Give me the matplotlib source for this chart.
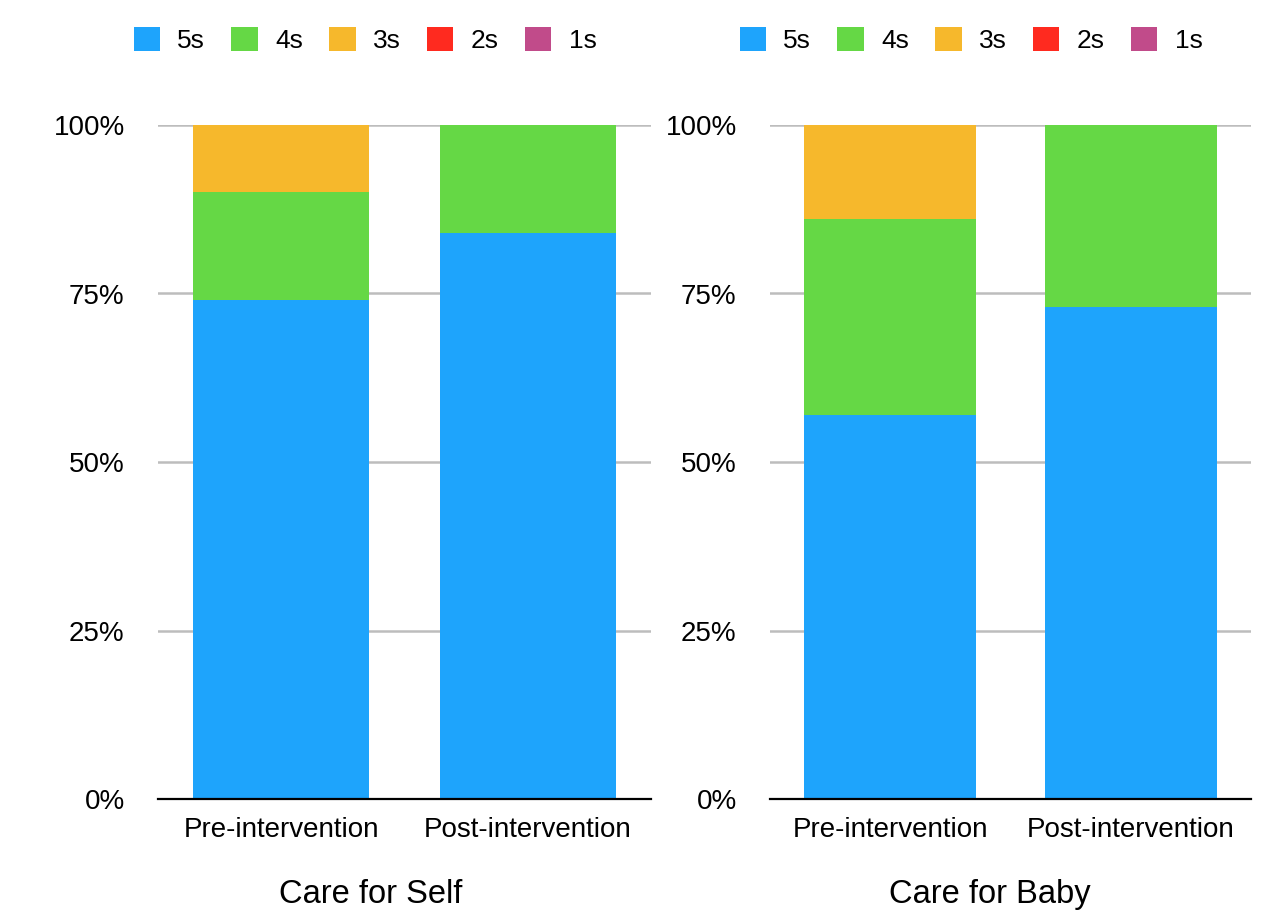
import matplotlib
matplotlib.use("Agg")
import matplotlib.pyplot as plt
import numpy as np
from matplotlib.patches import Patch

plt.rcParams['font.family'] = ['Liberation Sans', 'DejaVu Sans']

# data (percent of responses)
groups = ["Pre-intervention", "Post-intervention"]
ratings = ["5s", "4s", "3s", "2s", "1s"]
colors = ["#1ea4fc", "#65d845", "#f6b82c", "#ff2a1f", "#c14b8a"]

self_5s = [74, 84]
self_4s = [16, 16]
self_3s = [10, 0]
self_2s = [0, 0]
self_1s = [0, 0]

baby_5s = [57, 73]
baby_4s = [29, 27]
baby_3s = [14, 0]
baby_2s = [0, 0]
baby_1s = [0, 0]

panels = [
    ("Care for Self", [self_5s, self_4s, self_3s, self_2s, self_1s]),
    ("Care for Baby", [baby_5s, baby_4s, baby_3s, baby_2s, baby_1s]),
]

fig = plt.figure(figsize=(12.67, 9.13), dpi=100)
ax_rects = [
    [158 / 1267, 1 - 799 / 913, 493 / 1267, 674 / 913],
    [770 / 1267, 1 - 799 / 913, 481 / 1267, 674 / 913],
]
legend_x = [365 / 1267, 971 / 1267]
title_x = [0.431, 0.457]   # titles sit a bit left of the axes centre

for rect, lx, tx, (title, series) in zip(ax_rects, legend_x, title_x, panels):
    ax = fig.add_axes(rect)
    x = np.arange(len(groups))
    bottom = np.zeros(len(groups))
    for vals, col in zip(series, colors):
        ax.bar(x, vals, width=0.715, bottom=bottom, color=col,
               linewidth=0, zorder=3)
        bottom += np.array(vals)

    ax.set_xlim(-0.5, 1.5)
    ax.set_ylim(0, 100)
    ax.set_yticks([0, 25, 50, 75, 100])
    ax.set_yticklabels(["0%", "25%", "50%", "75%", "100%"])
    ax.set_xticks(x)
    ax.set_xticklabels(groups)
    ax.tick_params(axis="both", length=0, labelsize=20)
    ax.tick_params(axis="y", pad=24)
    ax.tick_params(axis="x", pad=13)
    ax.yaxis.grid(True, color="#bdbdbd", linewidth=1.8, zorder=0)
    ax.set_axisbelow(True)
    for side in ["top", "right", "left"]:
        ax.spines[side].set_visible(False)
    ax.spines["bottom"].set_linewidth(1.6)
    ax.spines["bottom"].set_zorder(4)
    ax.set_xlabel(title, fontsize=23.5)
    ax.xaxis.set_label_coords(tx, -0.119)

    handles = [Patch(facecolor=c, edgecolor="none") for c in colors]
    fig.legend(handles, ratings, loc="center", bbox_to_anchor=(lx, 1 - 40 / 913),
               ncol=5, frameon=False, fontsize=19, handlelength=1.0,
               handleheight=1.0, handletextpad=0.65, columnspacing=1.0)

fig.savefig("out.png", dpi=100, facecolor="white")
